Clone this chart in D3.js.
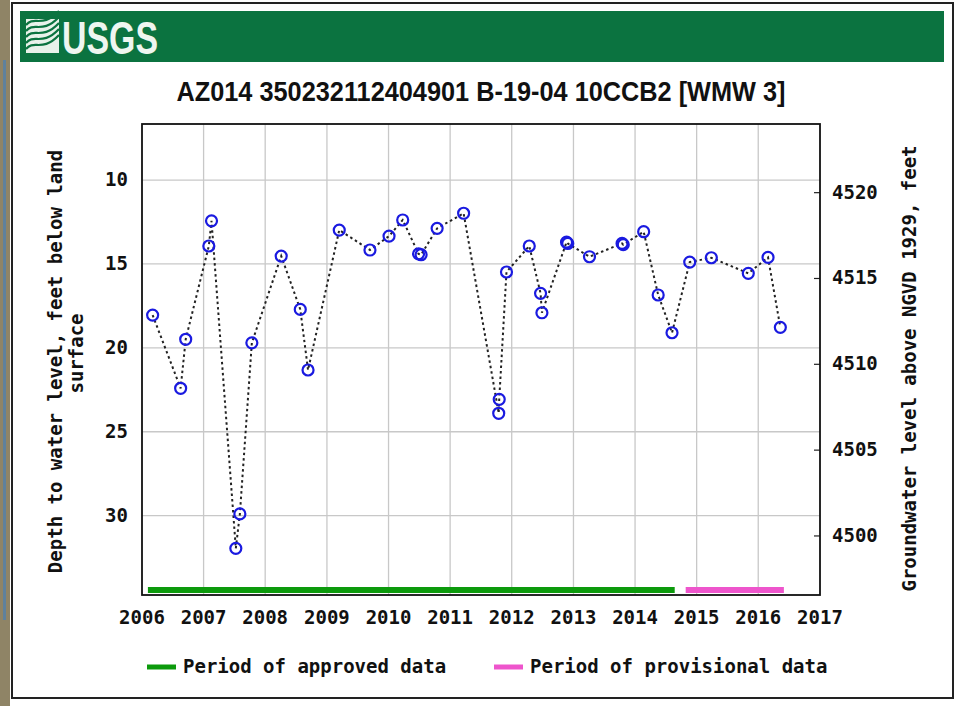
<!DOCTYPE html>
<html>
<head>
<meta charset="utf-8">
<script src="https://cdn.jsdelivr.net/npm/d3@7"></script>
<style>
  body { margin: 0; background: #fff; }
  svg { display: block; }
  .mono { font-family: "DejaVu Sans Mono", "Liberation Mono", monospace; font-weight: bold; }
</style>
</head>
<body>
<div id="chart"></div>
<script>
// measurement dates and depth to water (feet below land surface)
const dates = ["2006-03-05", "2006-08-18", "2006-09-17", "2007-02-01", "2007-02-17", "2007-07-11", "2007-08-04",
  "2007-10-14", "2008-04-05", "2008-07-27", "2008-09-11", "2009-03-15", "2009-09-13", "2010-01-04", "2010-03-26",
  "2010-06-28", "2010-07-13", "2010-10-16", "2011-03-22", "2011-10-16", "2011-10-19", "2011-12-01", "2012-04-14",
  "2012-06-20", "2012-06-28", "2012-11-21", "2012-11-28", "2013-04-06", "2013-10-16", "2013-10-23", "2014-02-21",
  "2014-05-18", "2014-08-08", "2014-11-21", "2015-03-29", "2015-11-03", "2016-02-28", "2016-05-11"];
const depths = [18.05, 22.41, 19.49, 13.93, 12.43, 31.95, 29.90,
  19.70, 14.53, 17.71, 21.32, 12.98, 14.17, 13.34, 12.38,
  14.40, 14.45, 12.88, 11.98, 23.90, 23.07, 15.48, 13.93,
  16.75, 17.91, 13.70, 13.78, 14.57, 13.78, 13.85, 13.08,
  16.85, 19.10, 14.89, 14.63, 15.56, 14.61, 18.78];

// data approval periods
const periodNames = ["Period of approved data", "Period of provisional data"];
const periodStart = ["2006-02-05", "2014-10-28"];
const periodEnd = ["2014-08-24", "2016-06-01"];
const periodColors = ["#0c9a0c", "#ee55cc"];

// tick labels
const yearTicks = d3.range(2006, 2018);
const depthTicks = [10, 15, 20, 25, 30];
const elevTicks = [4500, 4505, 4510, 4515, 4520];

const title = "AZ014 350232112404901 B-19-04 10CCB2 [WMW 3]";
const leftLabel = ["Depth to water level, feet below land", "surface"];
const rightLabel = "Groundwater level above NGVD 1929, feet";

const parse = d3.timeParse("%Y-%m-%d");
const data = dates.map((d, i) => ({ date: parse(d), depth: depths[i] }));

const W = 960, H = 706;
const plot = { left: 142, right: 820, top: 124, bottom: 595 };
const fs = 19;

const x = d3.scaleTime()
  .domain([new Date(2006, 0, 1), new Date(2017, 0, 1)])
  .range([plot.left, plot.right]);
const y = d3.scaleLinear().domain([6.66, 34.73]).range([plot.top, plot.bottom]);
const y2 = d3.scaleLinear().domain([4524.0, 4496.56]).range([plot.top, plot.bottom]);

const svg = d3.select("#chart").append("svg").attr("width", W).attr("height", H);

// screenshot edge on the left
svg.append("rect").attr("x", 0).attr("y", 0).attr("width", 10).attr("height", H).attr("fill", "#8f8466");
svg.append("rect").attr("x", 3).attr("y", 60).attr("width", 3).attr("height", 560).attr("fill", "#3f7fbf").attr("opacity", 0.6);

// outer frame
svg.append("rect").attr("x", 12).attr("y", 3).attr("width", 941).attr("height", 695)
  .attr("fill", "#fff").attr("stroke", "#222").attr("stroke-width", 2);

// USGS banner
svg.append("rect").attr("x", 20).attr("y", 11).attr("width", 924).attr("height", 51).attr("fill", "#0b7340");
const logo = svg.append("g").attr("transform", "translate(26,19)");
logo.append("rect").attr("width", 33).attr("height", 34).attr("fill", "#e8f2ea");
[6, 12, 18, 24, 30].forEach(o => {
  logo.append("path")
    .attr("d", `M0,${o} C8,${o - 10} 16,${o + 4} 33,${o - 14}`)
    .attr("fill", "none").attr("stroke", "#0b7340").attr("stroke-width", 2.2);
});
svg.append("text").attr("x", 62).attr("y", 54)
  .attr("font-family", "'Liberation Sans Narrow', 'Arial Narrow', 'Liberation Sans', sans-serif")
  .attr("font-weight", "bold").attr("font-size", 46).attr("fill", "#eef6f0")
  .attr("textLength", 96).attr("lengthAdjust", "spacingAndGlyphs")
  .text("USGS");

// title
svg.append("text").attr("x", 481).attr("y", 101).attr("text-anchor", "middle")
  .attr("font-family", "'Liberation Sans Narrow', 'Liberation Sans', Arial, sans-serif")
  .attr("font-weight", "bold").attr("font-size", 28).attr("fill", "#111")
  .attr("textLength", 609).attr("lengthAdjust", "spacingAndGlyphs")
  .text(title);

// grid
const grid = svg.append("g").attr("stroke", "#c8c8c8").attr("stroke-width", 1.3);
grid.selectAll("line.v").data(yearTicks.slice(1, -1)).join("line")
  .attr("x1", d => x(new Date(d, 0, 1))).attr("x2", d => x(new Date(d, 0, 1)))
  .attr("y1", plot.top).attr("y2", plot.bottom);
grid.selectAll("line.h").data(depthTicks).join("line")
  .attr("x1", plot.left).attr("x2", plot.right)
  .attr("y1", d => y(d)).attr("y2", d => y(d));

// right axis ticks (inward)
svg.append("g").selectAll("line").data(elevTicks).join("line")
  .attr("x1", plot.right - 6).attr("x2", plot.right)
  .attr("y1", d => y2(d)).attr("y2", d => y2(d))
  .attr("stroke", "#222").attr("stroke-width", 1.2);

// period bars
const barY = plot.bottom - 5;
svg.append("g").selectAll("line").data(periodNames).join("line")
  .attr("x1", (d, i) => x(parse(periodStart[i])))
  .attr("x2", (d, i) => x(parse(periodEnd[i])))
  .attr("y1", barY).attr("y2", barY)
  .attr("stroke", (d, i) => periodColors[i]).attr("stroke-width", 6);

// plot frame
svg.append("rect").attr("x", plot.left).attr("y", plot.top)
  .attr("width", plot.right - plot.left).attr("height", plot.bottom - plot.top)
  .attr("fill", "none").attr("stroke", "#111").attr("stroke-width", 1.8);

// dotted line
const line = d3.line().x(d => x(d.date)).y(d => y(d.depth));
svg.append("path").datum(data).attr("d", line)
  .attr("fill", "none").attr("stroke", "#222").attr("stroke-width", 2)
  .attr("stroke-dasharray", "2.5,3");

// points
svg.append("g").selectAll("circle").data(data).join("circle")
  .attr("cx", d => x(d.date)).attr("cy", d => y(d.depth)).attr("r", 5.5)
  .attr("fill", "none").attr("stroke", "#1a1ae0").attr("stroke-width", 2.2);

// x tick labels
svg.append("g").attr("class", "mono").selectAll("text").data(yearTicks).join("text")
  .attr("x", d => x(new Date(d, 0, 1))).attr("y", 624).attr("text-anchor", "middle")
  .attr("font-size", fs).attr("fill", "#111").text(d => d);

// left tick labels
svg.append("g").attr("class", "mono").selectAll("text").data(depthTicks).join("text")
  .attr("x", 128).attr("y", d => y(d) + 6).attr("text-anchor", "end")
  .attr("font-size", fs).attr("fill", "#111").text(d => d);

// right tick labels
svg.append("g").attr("class", "mono").selectAll("text").data(elevTicks).join("text")
  .attr("x", 832).attr("y", d => y2(d) + 6).attr("text-anchor", "start")
  .attr("font-size", fs).attr("fill", "#111").text(d => d);

// axis titles
const cy = (plot.top + plot.bottom) / 2;
svg.append("text").attr("class", "mono")
  .attr("transform", `translate(62,${cy + 2}) rotate(-90)`).attr("text-anchor", "middle")
  .attr("font-size", fs).attr("fill", "#111").text(leftLabel[0]);
svg.append("text").attr("class", "mono")
  .attr("transform", `translate(83,${cy - 6}) rotate(-90)`).attr("text-anchor", "middle")
  .attr("font-size", fs).attr("fill", "#111").text(leftLabel[1]);
svg.append("text").attr("class", "mono")
  .attr("transform", `translate(916,${cy + 9}) rotate(-90)`).attr("text-anchor", "middle")
  .attr("font-size", fs).attr("fill", "#111").text(rightLabel);

// legend
const legendX = [147, 494];
const leg = svg.append("g").selectAll("g").data(periodNames).join("g")
  .attr("transform", (d, i) => `translate(${legendX[i]},667)`);
leg.append("line").attr("x1", 0).attr("x2", 29).attr("y1", 0).attr("y2", 0)
  .attr("stroke", (d, i) => periodColors[i]).attr("stroke-width", 5);
leg.append("text").attr("class", "mono").attr("x", 36).attr("y", 6)
  .attr("font-size", fs).attr("fill", "#111").text(d => d);
</script>
</body>
</html>
